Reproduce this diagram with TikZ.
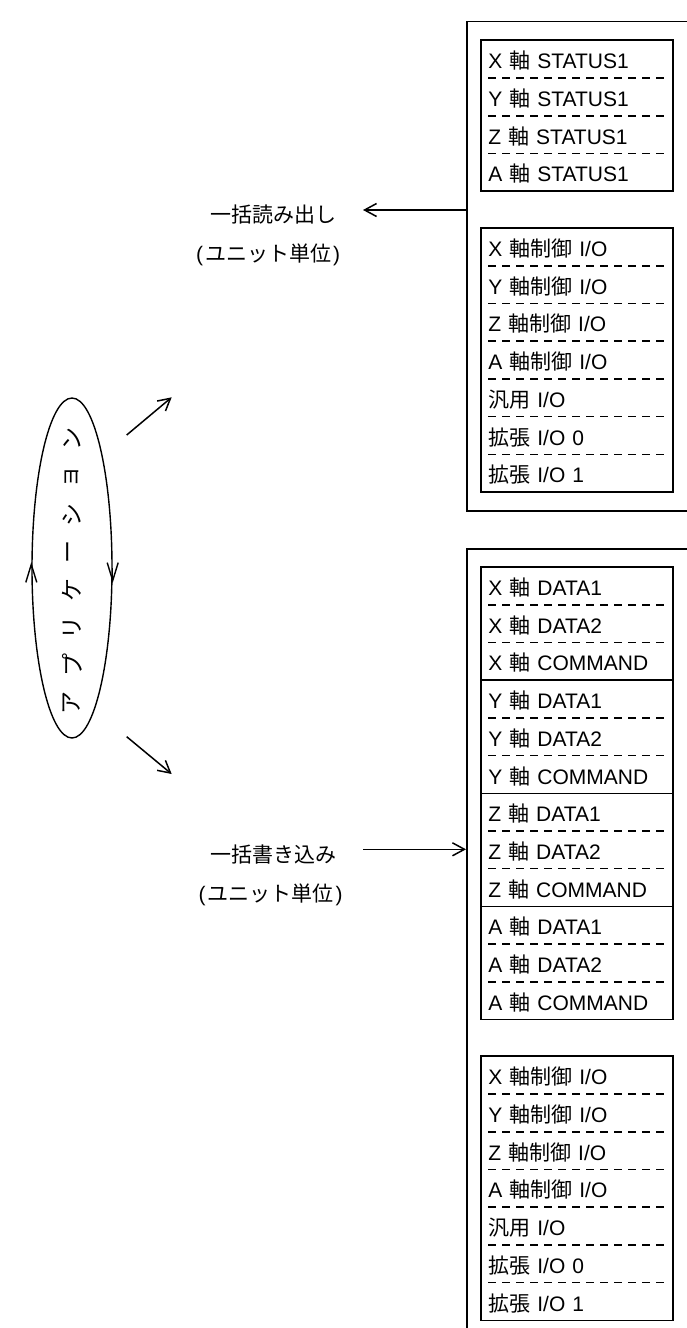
\documentclass[tikz,border=0pt]{standalone}
\usepackage{fontspec}
\setmainfont{Liberation Sans}
\newfontfamily\jp{Noto Sans CJK JP}
\newcommand{\ja}[1]{{\jp #1}}
\newcommand{\iolist}{{X \ja{軸制御} I/O},{Y \ja{軸制御} I/O},{Z \ja{軸制御} I/O},{A \ja{軸制御} I/O},{\ja{汎用} I/O},{\ja{拡張} I/O 0},{\ja{拡張} I/O 1}}
\usetikzlibrary{positioning, shapes.geometric, arrows.meta}

\tikzset{
  unit/.style={draw, line width=1.6pt, minimum width=260pt, anchor=north west, inner sep=0pt},
  row/.style={anchor=north west, minimum height=37.7pt, text width=177pt, inner xsep=7.5pt, inner ysep=0pt, text height=19.5pt, text depth=0pt, align=left},
  frame/.style={line width=1.6pt},
  dashsep/.style={line width=1.5pt, dash pattern=on 8pt off 6pt},
  arr/.style={line width=1.5pt, -{Straight Barb[length=12pt, width=13pt]}},
  circarr/.style={line width=1.4pt, -{Straight Barb[length=18pt, width=11pt]}}
}

\begin{document}
\begin{tikzpicture}[x=1pt, y=-1pt, font=\fontsize{21pt}{25pt}\selectfont]
        \useasboundingbox (0,0) rectangle (687,1328);
        \clip (0,0) rectangle (687,1328);

        \node[unit, minimum height=489.3pt] (rdunit) at (466,20.7) {};
        \node[unit, minimum height=800pt] (wrunit) at (466,548.3) {};

        \foreach \ax [count=\i] in {X,Y,Z,A}
          \node[row] (st\i) at (480.7,{2.3+37.7*\i}) {\ax\ \ja{軸} STATUS1};
        \draw[frame] (st1.north west) rectangle (st4.south east);
        \foreach \i in {1,2,3}
          \draw[dashsep] ([xshift=7.3pt]st\i.south west) -- ([xshift=-7.3pt]st\i.south east);

        \foreach \yy/\nm in {227.7/rio, 1056/wio} {
          \foreach \lb [count=\i] in \iolist
            \node[row] (\nm\i) at (480.7,{\yy+37.7*(\i-1)}) {\lb};
          \draw[frame] (\nm1.north west) rectangle (\nm7.south east);
          \foreach \i in {1,...,6}
            \draw[dashsep] ([xshift=7.3pt]\nm\i.south west) -- ([xshift=-7.3pt]\nm\i.south east);
        }

        \foreach \ax [count=\a from 0] in {X,Y,Z,A}
          \foreach \reg [count=\r] in {DATA1,DATA2,COMMAND}
            \node[row] (dt\ax\r) at (480.7,{566.7+37.7*(3*\a+\r-1)}) {\ax\ \ja{軸} \reg};
        \draw[frame] (dtX1.north west) rectangle (dtA3.south east);
        \foreach \ax in {X,Y,Z,A}
          \foreach \r in {1,2}
            \draw[dashsep] ([xshift=7.3pt]dt\ax\r.south west) -- ([xshift=-7.3pt]dt\ax\r.south east);
        \foreach \ax in {X,Y,Z}
          \draw[frame] (dt\ax3.south west) -- (dt\ax3.south east);

        \node (rdlbl) at (273.5,215) {\ja{一括読み出し}};
        \node (rdsub) at (268,255) {(\kern2pt\ja{ユニット単位}\kern2pt)};
        \node (wrlbl) at (273.5,855) {\ja{一括書き込み}};
        \node (wrsub) at (270.5,895) {(\kern2pt\ja{ユニット単位}\kern2pt)};

        \coordinate (rdtip) at (363,210);
        \draw[arr] (rdunit.west |- rdtip) -- (rdtip);
        \coordinate (wrtail) at (363,849.3);
        \draw[arr] (wrtail) -- (wrunit.west |- wrtail);

        \node[draw, ellipse, line width=1.4pt, minimum width=80pt, minimum height=340pt, inner sep=0pt] (app) at (72,568) {};
        \foreach \ch [count=\i from 0] in {ア,プ,リ,ケ,ー,シ,ョ,ン}
          \node[rotate=90, font=\fontsize{23pt}{25pt}\selectfont] (kn\i) at (72,{703-37.7*\i}) {\jp\ch};
        \draw[circarr] (app.east) -- ([yshift=-15pt]app.east);
        \draw[circarr] (app.west) -- ([yshift=6pt]app.west);

        \coordinate (upfrom) at (126.7,435);
        \coordinate (upto) at (171.7,397.3);
        \coordinate (dnfrom) at (126.7,736.7);
        \coordinate (dnto) at (171.7,774);
        \draw[arr] (upfrom) -- (upto);
        \draw[arr] (dnfrom) -- (dnto);
      \end{tikzpicture}
\end{document}
